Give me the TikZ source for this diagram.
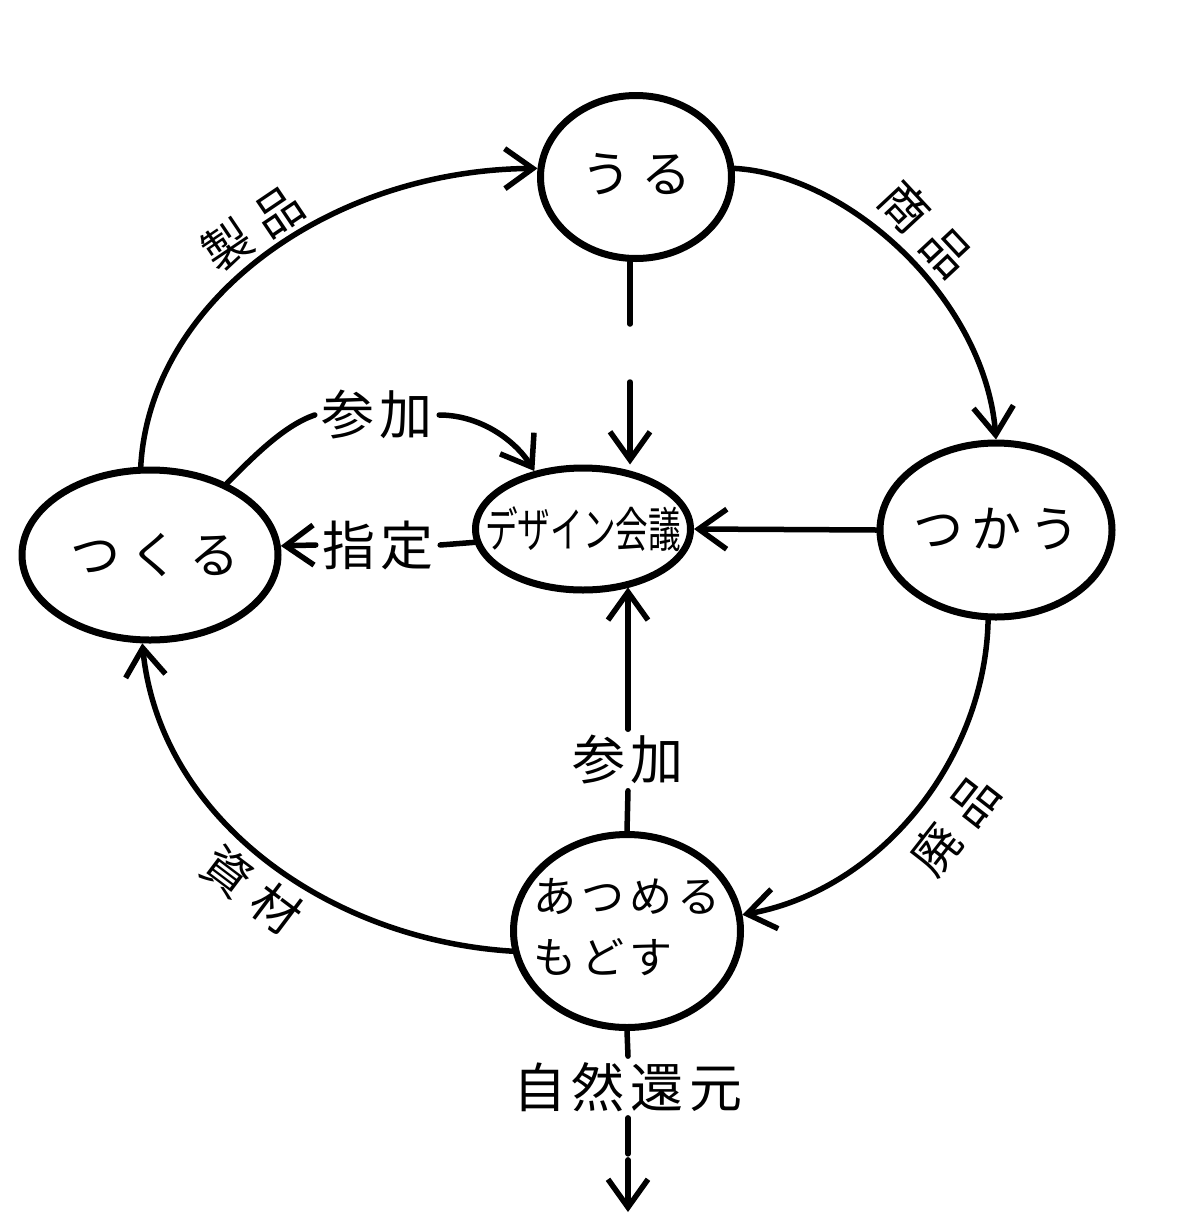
\documentclass[tikz,border=0pt]{standalone}
\usepackage{fontspec}
\usepackage{graphicx}
\newfontfamily\jp{Noto Sans CJK JP}
\usetikzlibrary{shapes.geometric,arrows.meta}
\begin{document}
\begin{tikzpicture}[x=1pt,y=-1pt,
  line cap=round, line join=round,
  box/.style={draw, ellipse, line width=7pt, inner sep=0pt, font={\jp\fontsize{50}{60}\selectfont}},
  conn/.style={line width=5.5pt},
  arr/.style={conn, -{Straight Barb[length=28pt,width=40pt]}},
  lab/.style={font={\jp\fontsize{53}{60}\selectfont}, inner sep=6pt},
  rlab/.style={font={\jp\fontsize{48}{56}\selectfont}, inner sep=0pt}]
\fill[white] (0,0) rectangle (1200,1221);
\useasboundingbox (0,0) rectangle (1200,1221);

% nodes
\node[box, minimum width=191pt, minimum height=163pt] (uru) at (636,177)
  {\makebox[0pt]{\raisebox{8pt}{う\hspace{10pt}る}}};
\node[box, minimum width=232pt, minimum height=174pt] (tsukau) at (996,530)
  {\makebox[0pt]{\raisebox{4pt}{つ\hspace{8pt}か\hspace{8pt}う}}};
\node[box, minimum width=215pt, minimum height=122pt, font={\jp\fontsize{48}{54}\selectfont}] (kaigi) at (583,529)
  {\makebox[0pt]{\scalebox{0.68}[1]{デザイン会議}}};
\node[box, minimum width=256pt, minimum height=170pt] (tsukuru) at (150,555)
  {\makebox[0pt]{\hspace{10pt}つ\hspace{10pt}く\hspace{10pt}る}};
\node[box, minimum width=227pt, minimum height=193pt, font={\jp\fontsize{43}{61}\selectfont}] (atsumeru) at (627,931)
  {\makebox[0pt]{\begin{tabular}{@{}l@{}}あ\hspace{5pt}つ\hspace{5pt}め\hspace{5pt}る\\も\hspace{5pt}ど\hspace{5pt}す\end{tabular}}};

% labels
\node[lab] (sankaA) at (377,415) {参\hspace{6pt}加};
\node[lab] (shitei) at (378,545) {指\hspace{6pt}定};
\node[lab] (sankaB) at (628,760) {参\hspace{6pt}加};
\node[lab] (shizen) at (628,1087) {自\hspace{6pt}然\hspace{6pt}還\hspace{6pt}元};
\node[rlab, rotate=34] (seihin) at (253,228) {製\hspace{14pt}品};
\node[rlab, rotate=-47] (shohin) at (926,229) {商\hspace{14pt}品};
\node[rlab, rotate=52] (haihin) at (955,825) {廃\hspace{14pt}品};
\node[rlab, rotate=-37] (shizai) at (252,890) {資\hspace{14pt}材};

% outer cycle
\draw[arr] (tsukuru.96) .. controls (150,300) and (330,170) .. (uru.175);
\draw[arr] (uru.5) .. controls (850,175) and (985,300) .. (tsukau.north);
\draw[arr] (tsukau.265) .. controls (985,760) and (880,890) .. (atsumeru.8);
\draw[arr] (atsumeru.190) .. controls (330,940) and (160,820) .. (tsukuru.265);

% to design meeting
\draw[conn] (tsukuru.43) .. controls (255,455) and (285,425) .. (sankaA.west);
\draw[arr] (sankaA.east) .. controls (480,415) and (515,440) .. (kaigi.130);
\draw[arr] (tsukau.west) -- (kaigi.east);
\draw[conn] (kaigi.187) -- (shitei.east);
\draw[arr] (shitei.west) -- (tsukuru.4);
\coordinate (vx) at (630,0);
\draw[arr, dash pattern=on 62pt off 58pt on 400pt] (uru.south -| vx) -- (kaigi.north -| vx);
\draw[conn] (atsumeru.north) -- (sankaB.south);
\draw[arr] (sankaB.north) -- (kaigi.-51 -| sankaB.north);

% return to nature
\draw[conn] (atsumeru.south) -- (shizen.north);
\coordinate (endpt) at (628,1212);
\draw[arr, dash pattern=on 36pt off 6pt on 200pt] (shizen.south) -- (endpt);
\end{tikzpicture}
\end{document}
